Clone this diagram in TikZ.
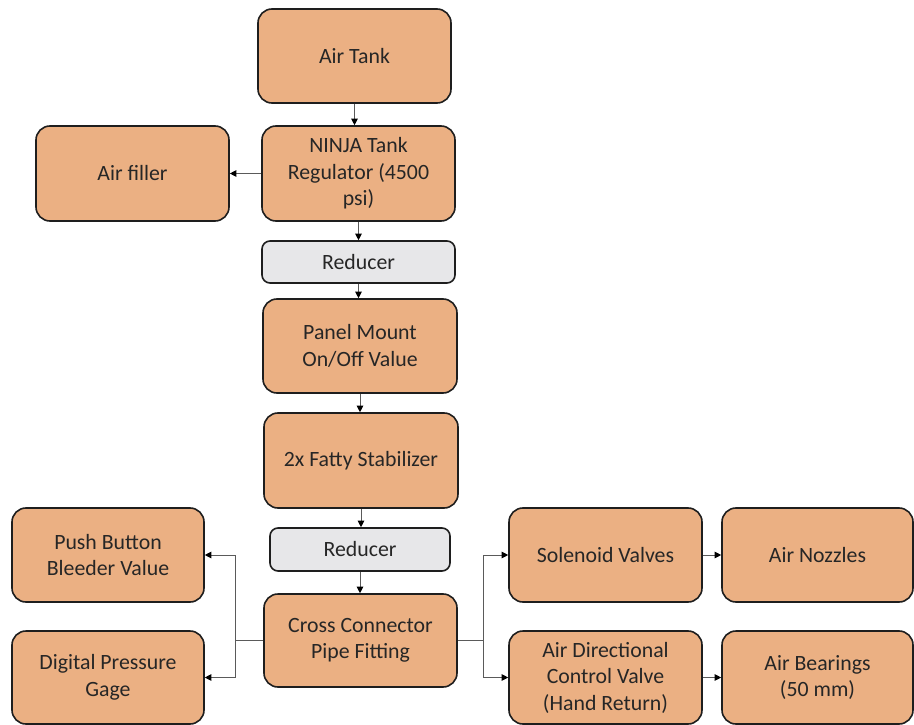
\documentclass[tikz,border=0pt]{standalone}
\usepackage{fontspec}
\setmainfont{Carlito}
\usetikzlibrary{arrows.meta}
\definecolor{boxfill}{RGB}{235,176,131}
\definecolor{redfill}{RGB}{231,231,233}
\definecolor{boxline}{RGB}{30,30,30}
\definecolor{txt}{RGB}{38,38,38}
\definecolor{conn}{RGB}{90,90,90}
\tikzset{
  x=1pt,y=-1pt,
  box/.style={draw=boxline, line width=1.6pt, fill=boxfill, rounded corners=14pt,
    minimum width=193pt, minimum height=94pt, align=center, text=txt,
    font=\fontsize{21.8}{26.5}\selectfont, inner sep=2pt},
  redbox/.style={box, fill=redfill, rounded corners=8pt, minimum height=42pt},
  conn/.style={draw=conn, line width=0.8pt, -{Triangle[length=6.5pt,width=6.5pt,fill=black,color=black]}},
  plain/.style={draw=conn, line width=0.8pt}
}
\begin{document}
\begin{tikzpicture}
\useasboundingbox (0,0) rectangle (914,725);
\node[box] (tank) at (354.5,56) {Air Tank};
\node[box, minimum height=95pt] (ninja) at (358.5,173.5) {NINJA Tank\\Regulator (4500\\psi)};
\node[box, minimum height=95pt] (filler) at (132.5,173.5) {Air filler};
\node[redbox] (red1) at (358.5,262) {Reducer};
\node[box, minimum width=194pt] (panel) at (360,346) {Panel Mount\\On/Off Value};
\node[box, minimum width=194pt, minimum height=95pt] (fatty) at (361,460.5) {2x Fatty Stabilizer};
\node[redbox, minimum width=180pt, minimum height=43pt] (red2) at (360,549.5) {Reducer};
\node[box, minimum height=93pt] (cross) at (360.5,640.5) {Cross Connector\\Pipe Fitting};
\node[box, minimum width=192pt] (push) at (108,555) {Push Button\\Bleeder Value};
\node[box, minimum width=192pt, minimum height=93pt] (gage) at (108,677.5) {Digital Pressure\\Gage};
\node[box] (sol) at (605.5,555) {Solenoid Valves};
\node[box, minimum width=191pt] (noz) at (817.5,555) {Air Nozzles};
\node[box, minimum height=93pt] (adcv) at (605.5,677.5) {Air Directional\\Control Valve\\(Hand Return)};
\node[box, minimum width=191pt, minimum height=93pt] (bear) at (817.5,677.5) {Air Bearings\\(50 mm)};

\coordinate (lj) at (235,640.5);
\coordinate (rj) at (483,640.5);

\draw[conn] (tank.south) -- (tank.south |- ninja.north);
\draw[conn] (ninja.west) -- (filler.east);
\draw[conn] (ninja.south) -- (ninja.south |- red1.north);
\draw[conn] (red1.south) -- (red1.south |- panel.north);
\draw[conn] (panel.south) -- (panel.south |- fatty.north);
\draw[conn] (fatty.south) -- (fatty.south |- red2.north);
\draw[conn] (red2.south) -- (red2.south |- cross.north);
\draw[plain] (cross.west) -- (lj);
\draw[conn] (lj) |- (push.east);
\draw[conn] (lj) |- (gage.east);
\draw[plain] (cross.east) -- (rj);
\draw[conn] (rj) |- (sol.west);
\draw[conn] (rj) |- (adcv.west);
\draw[conn] (sol.east) -- (noz.west);
\draw[conn] (adcv.east) -- (bear.west);
\end{tikzpicture}
\end{document}
